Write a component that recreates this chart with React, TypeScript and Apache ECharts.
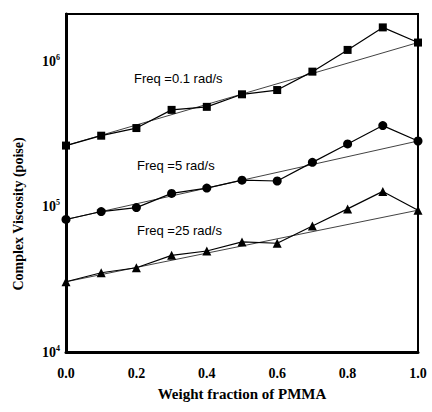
import React, { useEffect, useRef } from "react";
import * as echarts from "echarts";

const weightFraction = [0.0, 0.1, 0.2, 0.3, 0.4, 0.5, 0.6, 0.7, 0.8, 0.9, 1.0];
const freq01 = [2.65e5, 3.1e5, 3.5e5, 4.67e5, 4.9e5, 5.98e5, 6.4e5, 8.57e5, 1.21e6, 1.73e6, 1.36e6];
const freq5 = [8.2e4, 9.3e4, 9.9e4, 1.24e5, 1.35e5, 1.53e5, 1.51e5, 2.03e5, 2.72e5, 3.64e5, 2.85e5];
const freq25 = [3.05e4, 3.52e4, 3.81e4, 4.64e4, 4.97e4, 5.74e4, 5.62e4, 7.4e4, 9.7e4, 1.28e5, 9.5e4];
const seriesLabels = ["Freq =0.1 rad/s", "Freq =5 rad/s", "Freq =25 rad/s"];
const xTitle = "Weight fraction of PMMA";
const yTitle = "Complex Viscosity (poise)";

const SERIF = "'Liberation Serif', 'DejaVu Serif', serif";
const SANS = "'Liberation Sans', Arial, sans-serif";

function pairs(vals: number[]) {
  return weightFraction.map((x, i) => [x, vals[i]]);
}
function fit(vals: number[]) {
  return [
    [weightFraction[0], vals[0]],
    [weightFraction[weightFraction.length - 1], vals[vals.length - 1]],
  ];
}

export default function App() {
  const ref = useRef<HTMLDivElement>(null);
  useEffect(() => {
    if (!ref.current) return;
    const chart = echarts.init(ref.current, null, { renderer: "svg" });
    const dataLine = (name: string, vals: number[], symbol: string, size: number) => ({
      name,
      type: "line",
      data: pairs(vals),
      symbol,
      symbolSize: size,
      showAllSymbol: true,
      lineStyle: { color: "#000", width: 1.2 },
      itemStyle: { color: "#000" },
      z: 3,
    });
    const fitLine = (vals: number[]) => ({
      type: "line",
      data: fit(vals),
      symbol: "none",
      lineStyle: { color: "#111", width: 0.8 },
      z: 2,
    });
    chart.setOption({
      animation: false,
      backgroundColor: "#fff",
      grid: {
        left: 66,
        right: 14,
        top: 14,
        bottom: 60,
        show: true,
        borderColor: "#000",
        borderWidth: 2,
      },
      xAxis: {
        type: "value",
        min: 0,
        max: 1,
        interval: 0.2,
        axisLine: { lineStyle: { color: "#000", width: 3 } },
        axisTick: { show: false },
        splitLine: { show: false },
        axisLabel: {
          formatter: (v: number) => v.toFixed(1),
          color: "#000",
          fontFamily: SERIF,
          fontWeight: "bold",
          fontSize: 14,
          margin: 14,
          showMaxLabel: true,
        },
      },
      yAxis: {
        type: "log",
        logBase: 10,
        min: 1e4,
        max: 2.14e6,
        axisLine: { lineStyle: { color: "#000", width: 3 } },
        axisTick: { show: false },
        splitLine: { show: false },
        minorTick: { show: false },
        axisLabel: {
          color: "#000",
          margin: 6,
          formatter: (v: number) => {
            const l = Math.log10(v);
            if (Math.abs(l - Math.round(l)) > 1e-6) return "";
            return "{b|10}{s|" + Math.round(l) + "}";
          },
          rich: {
            b: { fontFamily: SERIF, fontWeight: "bold", fontSize: 14, color: "#000" },
            s: {
              fontFamily: SERIF,
              fontWeight: "bold",
              fontSize: 8,
              color: "#000",
              verticalAlign: "top",
              padding: [0, 0, 8, 0],
            },
          },
        },
      },
      graphic: [
        {
          type: "text",
          x: 18,
          y: 214,
          rotation: Math.PI / 2,
          style: {
            text: yTitle,
            fontFamily: SERIF,
            fontWeight: "bold",
            fontSize: 14,
            fill: "#000",
            textAlign: "center",
            textVerticalAlign: "middle",
          },
        },
        {
          type: "text",
          x: 242,
          y: 394,
          style: {
            text: xTitle,
            fontFamily: SERIF,
            fontWeight: "bold",
            fontSize: 15,
            fill: "#000",
            textAlign: "center",
            textVerticalAlign: "middle",
          },
        },
        {
          type: "text",
          x: 134,
          y: 78,
          style: { text: seriesLabels[0], fontFamily: SANS, fontSize: 13, fill: "#000", textVerticalAlign: "middle" },
        },
        {
          type: "text",
          x: 137,
          y: 165,
          style: { text: seriesLabels[1], fontFamily: SANS, fontSize: 13, fill: "#000", textVerticalAlign: "middle" },
        },
        {
          type: "text",
          x: 137,
          y: 230,
          style: { text: seriesLabels[2], fontFamily: SANS, fontSize: 13, fill: "#000", textVerticalAlign: "middle" },
        },
      ],
      series: [
        dataLine(seriesLabels[0], freq01, "rect", 8),
        fitLine(freq01),
        dataLine(seriesLabels[1], freq5, "circle", 9),
        fitLine(freq5),
        dataLine(seriesLabels[2], freq25, "triangle", 9),
        fitLine(freq25),
      ],
    });
    return () => chart.dispose();
  }, []);
  return (
    <div
      ref={ref}
      style={{ position: "absolute", left: 0, top: 0, width: 432, height: 412 }}
    />
  );
}
